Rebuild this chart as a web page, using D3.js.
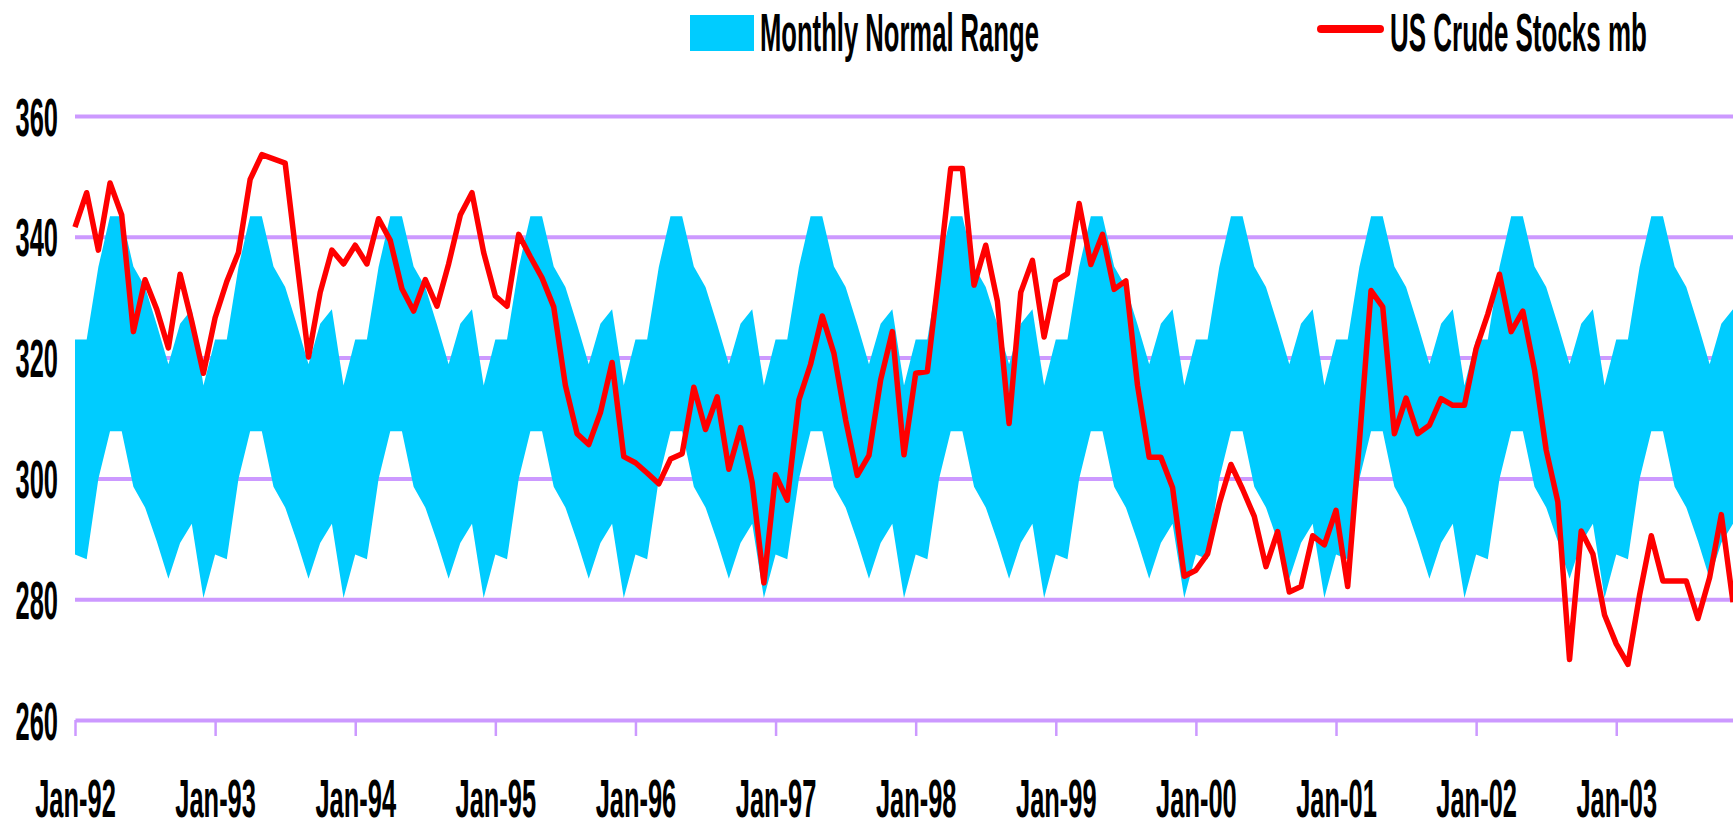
<!DOCTYPE html>
<html>
<head>
<meta charset="utf-8">
<script src="https://cdn.jsdelivr.net/npm/d3@7"></script>
<style>
  body { margin: 0; background: #fff; }
  svg { display: block; }
  text { font-family: "Liberation Sans", Arial, sans-serif; font-weight: bold; fill: #000; }
</style>
</head>
<body>
<svg id="chart"></svg>
<script>
// monthly normal range, Jan..Dec (repeats every year)
const normalUpper = [323.0, 323.0, 335.0, 343.4, 343.4, 335.1, 331.7, 325.5, 318.9, 325.6, 328.0, 315.4];
const normalLower = [287.4, 286.6, 299.9, 307.8, 307.8, 298.6, 295.2, 289.6, 283.4, 289.3, 292.5, 280.2];

// US crude stocks, mb, Jan-92 .. Nov-03
const stocks = [
  341.6, 347.3, 337.8, 348.9, 343.6, 324.3, 332.9, 328.0, 321.6, 333.8, 326.0, 317.4,
  326.6, 332.6, 337.4, 349.5, 353.6, 352.9, 352.2, 336.0, 320.1, 330.8, 337.8, 335.5,
  338.6, 335.5, 343.0, 339.4, 331.4, 327.7, 332.9, 328.5, 335.5, 343.6, 347.3, 337.4,
  330.2, 328.5, 340.4, 336.7, 333.2, 328.4, 315.4, 307.4, 305.6, 310.9, 319.2, 303.6,
  302.6, 300.9, 299.1, 303.2, 304.1, 315.1, 308.1, 313.5, 301.5, 308.4, 299.3, 282.7,
  300.6, 296.4, 313.0, 318.9, 326.9, 320.7, 309.7, 300.5, 303.8, 316.3, 324.3, 303.9,
  317.4, 317.7, 334.0, 351.3, 351.3, 332.0, 338.6, 329.3, 309.1, 330.8, 336.1, 323.4,
  332.7, 333.9, 345.5, 335.4, 340.4, 331.3, 332.7, 315.4, 303.5, 303.5, 298.5, 283.8,
  284.8, 287.5, 295.8, 302.3, 298.2, 293.7, 285.4, 291.2, 281.2, 282.1, 290.5, 289.0,
  294.7, 282.1, 306.0, 331.1, 328.4, 307.4, 313.3, 307.4, 308.8, 313.2, 312.1, 312.1,
  321.5, 327.2, 333.8, 324.3, 327.7, 318.0, 304.7, 296.1, 270.0, 291.3, 287.5, 277.4,
  272.6, 269.2, 280.7, 290.5, 283.0, 283.0, 283.0, 276.8, 283.6, 294.0, 279.5
];

const xTickLabels = ["Jan-92", "Jan-93", "Jan-94", "Jan-95", "Jan-96", "Jan-97",
                     "Jan-98", "Jan-99", "Jan-00", "Jan-01", "Jan-02", "Jan-03"];
const yTicks = [260, 280, 300, 320, 340, 360];

const bandColor = "#00CCFF";
const lineColor = "#FF0000";
const gridColor = "#CC99FF";
const squeeze = 0.48;

const W = 1733, H = 827;
const margin = {top: 116, right: 0, bottom: 107, left: 75};
const boundedWidth = W - margin.left - margin.right;
const boundedHeight = H - margin.top - margin.bottom;

const svg = d3.select("#chart").attr("width", W).attr("height", H);
const g = svg.append("g").attr("transform", `translate(${margin.left}, ${margin.top})`);

// band rows built from the monthly pattern, one per month of the stocks series
const band = stocks.map((d, i) => ({i, lo: normalLower[i % 12], hi: normalUpper[i % 12]}));

const xScale = d3.scaleLinear()
    .domain([0, stocks.length - 1])
    .range([0, boundedWidth]);

const yScale = d3.scaleLinear()
    .domain([260, 360])
    .range([boundedHeight, 0]);

// gridlines + y labels
const yAxis = d3.axisLeft(yScale)
    .tickValues(yTicks)
    .tickSize(-boundedWidth)
    .tickSizeOuter(0);

g.append("g")
    .attr("class", "axis yaxis")
    .call(yAxis)
    .call(a => a.select(".domain").remove());

g.selectAll(".yaxis .tick line")
    .style("stroke", gridColor)
    .style("stroke-width", 4)
    .filter(d => d === 260).remove();

g.selectAll(".yaxis .tick text")
    .attr("x", null)
    .attr("dy", "0.36em")
    .attr("transform", `translate(-17, 0) scale(${squeeze}, 1)`)
    .style("font-size", "53px")
    .style("font-family", null)
    .style("font-weight", "bold");

// normal range band
const areaGenerator = d3.area()
    .x(d => xScale(d.i))
    .y0(d => yScale(d.lo))
    .y1(d => yScale(d.hi));

g.append("path")
    .datum(band)
    .attr("d", areaGenerator)
    .style("fill", bandColor);

// stocks line
const lineGenerator = d3.line()
    .x((d, i) => xScale(i))
    .y(d => yScale(d));

g.append("path")
    .datum(stocks)
    .attr("d", lineGenerator)
    .style("fill", "none")
    .style("stroke", lineColor)
    .style("stroke-width", 5.5)
    .style("stroke-linejoin", "round");

// x axis
const xAxis = d3.axisBottom(xScale)
    .tickValues(xTickLabels.map((d, i) => i * 12))
    .tickFormat((d, i) => xTickLabels[i])
    .tickSize(16)
    .tickSizeOuter(0);

const xg = g.append("g")
    .attr("class", "axis xaxis")
    .attr("transform", `translate(0, ${boundedHeight})`)
    .call(xAxis);

xg.select(".domain")
    .style("stroke", gridColor)
    .style("stroke-width", 4);

xg.selectAll(".tick line")
    .style("stroke", gridColor)
    .style("stroke-width", 2.5);

xg.selectAll(".tick text")
    .attr("y", null)
    .attr("dy", null)
    .attr("transform", `translate(0, 97) scale(${squeeze}, 1)`)
    .style("font-size", "53px")
    .style("font-family", null)
    .style("font-weight", "bold");

// legend
function legendText(x, y, targetWidth, label) {
    const t = svg.append("text")
        .style("font-size", "53px")
        .text(label);
    const k = targetWidth / t.node().getComputedTextLength();
    t.attr("transform", `translate(${x}, ${y}) scale(${k}, 1)`);
}

svg.append("rect")
    .attr("x", 690).attr("y", 15)
    .attr("width", 64).attr("height", 36)
    .style("fill", bandColor);

legendText(760, 51, 279, "Monthly Normal Range");

svg.append("line")
    .attr("x1", 1321).attr("x2", 1380)
    .attr("y1", 29).attr("y2", 29)
    .style("stroke", lineColor)
    .style("stroke-width", 8)
    .style("stroke-linecap", "round");

legendText(1390, 51, 257, "US Crude Stocks mb");
</script>
</body>
</html>
